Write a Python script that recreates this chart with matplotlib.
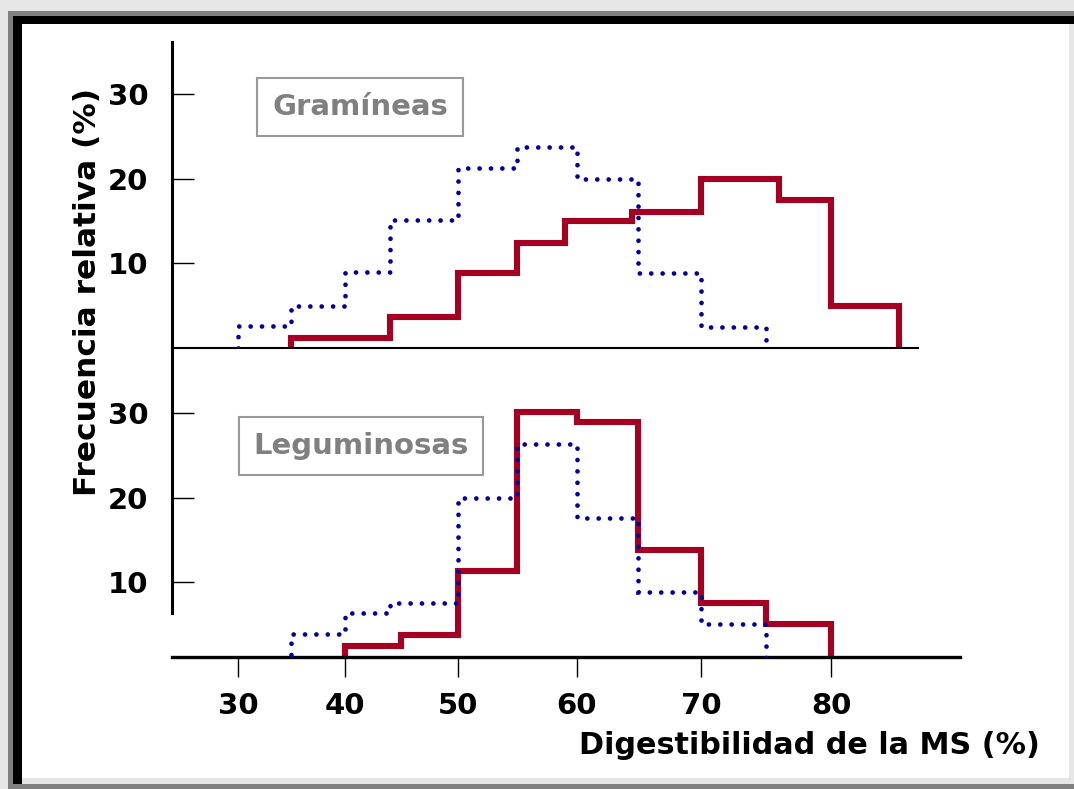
"""
Digestibilidad de la MS: distribución de frecuencias, gramíneas vs leguminosas.
"""

import numpy as np
import matplotlib
matplotlib.use("Agg")
import matplotlib.pyplot as plt
from matplotlib.patches import Rectangle

# --- data ----------------------------------------------------------------
grass_blue_edges = [30, 35, 40, 44, 50, 55, 60, 65, 70, 75]
grass_blue = [2.6, 5.0, 9.0, 15.1, 21.3, 23.7, 20.0, 8.8, 2.5]
grass_red_edges = [35, 44, 50, 55, 59, 64.5, 70, 76, 80, 85]
grass_red = [1.2, 3.7, 8.9, 12.4, 15.0, 16.1, 20.0, 17.5, 5.0]

leg_blue_edges = [35, 40, 44, 50, 55, 60, 65, 70, 75]
leg_blue = [3.8, 6.3, 7.5, 20.0, 26.3, 17.6, 8.8, 5.0]
leg_red_edges = [40, 45, 50, 55, 60, 65, 70, 75, 80]
leg_red = [2.4, 3.7, 11.3, 30.1, 28.9, 13.8, 7.5, 5.0]

x_ticks = [30, 40, 50, 60, 70, 80]
y_ticks = [10, 20, 30]

RED = "#a50021"
BLUE = "#00009c"
W, H = 1074, 789

# the original x axis is slightly stretched towards the right
K = 0.00281


def fwd(x):
    d = np.asarray(x, dtype=float) - 30
    return d + K * d * d


def inv(y):
    y = np.asarray(y, dtype=float)
    return 30 + (-1 + np.sqrt(np.clip(1 + 4 * K * y, 1e-9, None))) / (2 * K)


def px_rect(fig, x, y, w, h, color):
    fig.add_artist(Rectangle((x / W, 1 - (y + h) / H), w / W, h / H,
                             transform=fig.transFigure, color=color, lw=0))


def main():
    plt.rcParams["font.family"] = "DejaVu Sans"
    plt.rcParams["font.weight"] = "bold"

    fig = plt.figure(figsize=(W / 100, H / 100), dpi=100)
    left, width = 172 / W, (960 - 172) / W
    ax1 = fig.add_axes([left, 1 - 348 / H, width, (348 - 42) / H])
    ax2 = fig.add_axes([left, 1 - 657 / H, width, (657 - 348) / H], sharex=ax1)

    for ax in (ax1, ax2):
        ax.set_xscale("function", functions=(fwd, inv))
        ax.spines["top"].set_visible(False)
        ax.spines["right"].set_visible(False)
        ax.spines["left"].set_linewidth(2.2)
        ax.set_yticks(y_ticks)
        ax.tick_params(axis="y", direction="in", length=16, width=1.0,
                       pad=17, labelsize=21)
        ax.patch.set_alpha(0)

    ax1.set_xlim(23.5, 89.45)
    ax1.set_ylim(0, 36.14)
    ax2.set_ylim(1.12, 37.7)

    ax1.spines["bottom"].set_linewidth(1.5)
    ax1.spines["bottom"].set_bounds(23.5, 86.4)
    ax1.tick_params(axis="x", bottom=False, labelbottom=False)

    ax2.spines["bottom"].set_linewidth(2.4)
    ax2.spines["left"].set_bounds(6.33, 37.7)
    ax2.set_xticks(x_ticks)
    ax2.tick_params(axis="x", direction="out", length=14.4, width=1.0,
                    pad=11, labelsize=21)

    dots = dict(color=BLUE, lw=3.4, linestyle=(0, (0.01, 2.4)),
                capstyle="round", zorder=3)
    solid = dict(color=RED, lw=4.4, zorder=2)

    ax1.stairs(grass_red, grass_red_edges, baseline=0, **solid)
    ax1.stairs(grass_blue, grass_blue_edges, baseline=0, **dots)
    ax2.stairs(leg_red, leg_red_edges, baseline=0, **solid)
    ax2.stairs(leg_blue, leg_blue_edges, baseline=0, **dots)

    box = dict(boxstyle="square,pad=0.5", fc="white", ec="#999999", lw=1.5)
    fig.text(360 / W, 1 - 107 / H, "Gramíneas", ha="center", va="center",
             fontsize=21, color="#808080", bbox=box)
    fig.text(361 / W, 1 - 446 / H, "Leguminosas", ha="center", va="center",
             fontsize=21, color="#808080", bbox=box)

    fig.text(88 / W, 1 - 292 / H, "Frecuencia relativa (%)", rotation=90,
             ha="center", va="center", fontsize=22.5)
    fig.text(1040 / W, 1 - 745 / H, "Digestibilidad de la MS (%)",
             ha="right", va="center", fontsize=21.8)

    # picture frame
    px_rect(fig, 0, 0, W, 11, "#e6e6e6")
    px_rect(fig, 0, 0, 8, H, "#e6e6e6")
    px_rect(fig, 1069, 0, 5, H, "#e6e6e6")
    px_rect(fig, 0, 778, W, 6, "#e6e6e6")
    px_rect(fig, 8, 11, W - 8, 5, "#808080")
    px_rect(fig, 8, 11, 5, H - 11, "#808080")
    px_rect(fig, 8, 784, W - 8, 5, "#808080")
    px_rect(fig, 13, 16, W - 13, 8, "black")
    px_rect(fig, 13, 16, 9, 768, "black")

    fig.savefig("out.png", dpi=100)


if __name__ == "__main__":
    main()
